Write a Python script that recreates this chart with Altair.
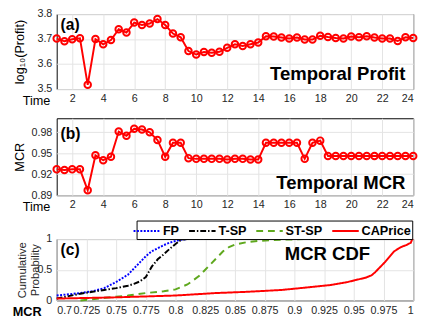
import altair as alt
import pandas as pd

FONT = "Liberation Sans"

time = [1, 1.5, 2, 2.5, 3, 3.5, 4, 4.5, 5, 5.5, 6, 6.5, 7, 7.5, 8, 8.5, 9, 9.5, 10, 10.5,
        11, 11.5, 12, 12.5, 13, 13.5, 14, 14.5, 15, 15.5, 16, 16.5, 17, 17.5, 18, 18.5,
        19, 19.5, 20, 20.5, 21, 21.5, 22, 22.5, 23, 23.5, 24]
profit = [3.702, 3.691, 3.699, 3.703, 3.517, 3.700, 3.679, 3.696, 3.739, 3.726, 3.766, 3.756,
          3.762, 3.780, 3.756, 3.722, 3.707, 3.652, 3.638, 3.648, 3.645, 3.649, 3.665, 3.679,
          3.672, 3.679, 3.686, 3.711, 3.710, 3.706, 3.702, 3.706, 3.698, 3.698, 3.713, 3.708,
          3.704, 3.702, 3.710, 3.707, 3.711, 3.706, 3.702, 3.702, 3.692, 3.707, 3.704]
mcr = [0.927, 0.926, 0.927, 0.927, 0.897, 0.947, 0.940, 0.945, 0.981, 0.975, 0.985, 0.984,
       0.980, 0.969, 0.945, 0.965, 0.965, 0.943, 0.942, 0.942, 0.942, 0.942, 0.941, 0.942,
       0.942, 0.941, 0.941, 0.965, 0.965, 0.965, 0.965, 0.965, 0.942, 0.965, 0.968, 0.946,
       0.946, 0.946, 0.946, 0.946, 0.946, 0.946, 0.946, 0.946, 0.946, 0.946, 0.946]

fp_x = [0.7, 0.71, 0.72, 0.73, 0.74, 0.75, 0.755, 0.76, 0.765, 0.77, 0.775, 0.78, 0.785, 0.79,
        0.795, 0.8, 0.805, 0.81, 0.82, 0.835]
fp_y = [0.08, 0.1, 0.12, 0.15, 0.2, 0.3, 0.36, 0.42, 0.52, 0.62, 0.72, 0.8, 0.85, 0.9, 0.94,
        0.97, 0.99, 1.0, 1.0, 1.0]
tsp_x = [0.7, 0.71, 0.72, 0.73, 0.74, 0.75, 0.76, 0.765, 0.77, 0.775, 0.78, 0.785, 0.79, 0.795,
         0.8, 0.805, 0.81, 0.83]
tsp_y = [0.03, 0.07, 0.11, 0.14, 0.17, 0.2, 0.24, 0.27, 0.31, 0.38, 0.55, 0.67, 0.75, 0.84,
         0.92, 0.99, 1.0, 1.0]
stsp_x = [0.72, 0.73, 0.75, 0.76, 0.775, 0.79, 0.8, 0.81, 0.82, 0.825, 0.83, 0.835, 0.84,
          0.845, 0.85, 0.86, 0.87, 0.89, 0.91, 0.925]
stsp_y = [0.0, 0.02, 0.06, 0.08, 0.12, 0.15, 0.18, 0.26, 0.4, 0.5, 0.6, 0.7, 0.8, 0.87, 0.91,
          0.95, 0.97, 0.99, 1.0, 1.0]
cap_x = [0.7, 0.75, 0.8, 0.834, 0.86, 0.889, 0.91, 0.93, 0.945, 0.951, 0.96, 0.965, 0.968,
         0.972, 0.976, 0.98, 0.984, 0.988, 0.991, 0.994, 0.996, 0.998, 0.999, 1.0]
cap_y = [0.03, 0.05, 0.08, 0.12, 0.14, 0.17, 0.21, 0.25, 0.3, 0.33, 0.37, 0.41, 0.46, 0.54,
         0.62, 0.71, 0.8, 0.85, 0.88, 0.9, 0.92, 0.94, 0.99, 1.0]

series_names = ["FP", "T-SP", "ST-SP", "CAPrice"]
series_colors = ["#0000FF", "#000000", "#5FA81E", "#FF0000"]
series_dash = [[2, 1.5], [6, 2, 1.5, 2], [7, 5], [1, 0]]

time_ticks = [2, 4, 6, 8, 10, 12, 14, 16, 18, 20, 22, 24]
profit_ticks = [3.5, 3.6, 3.7, 3.8]
mcr_ticks = [0.89, 0.92, 0.95, 0.98]
cdf_xticks = [0.7, 0.725, 0.75, 0.775, 0.8, 0.825, 0.85, 0.875, 0.9, 0.925, 0.95, 0.975, 1.0]
cdf_yticks = [0, 0.5, 1]

W = 366

df_a = pd.DataFrame({"t": time, "v": profit})
df_b = pd.DataFrame({"t": time, "v": mcr})
rows = []
for name, xs, ys in zip(series_names, [fp_x, tsp_x, stsp_x, cap_x], [fp_y, tsp_y, stsp_y, cap_y]):
    for i, (a, b) in enumerate(zip(xs, ys)):
        rows.append({"s": name, "x": a, "y": b, "o": i})
df_c = pd.DataFrame(rows)

one = pd.DataFrame({"k": [0]})

common_axis = dict(labelFont=FONT, labelFontSize=11, labelColor="#262626", grid=True,
                   gridColor="#e3e3e3", ticks=False, domain=False)


def xaxis_time():
    return alt.Axis(values=time_ticks, title="Time", titleFont=FONT, titleFontSize=13,
                    titleFontWeight="normal", titleColor="black", titleX=-7, titleY=16,
                    titleAlign="right", titleBaseline="alphabetic", labelPadding=4,
                    **common_axis)


def label(text, x, y, size=16, align="left", baseline="middle"):
    return alt.Chart(one).mark_text(text=text, font=FONT, fontSize=size, fontWeight="bold",
                                    color="black", align=align, baseline=baseline).encode(
        x=alt.value(x), y=alt.value(y))


def spacer(y):
    return alt.Chart(one).mark_text(text=".", fontSize=2, opacity=0, baseline="top").encode(
        x=alt.value(5), y=alt.value(y))


def temporal(df, domain, ticks, fmt, ytitle, tag, tag_y, big, big_y, h, extra=None):
    base = alt.Chart(df)
    x = alt.X("t:Q", scale=alt.Scale(domain=[1, 24], nice=False, zero=False), axis=xaxis_time())
    y = alt.Y("v:Q", scale=alt.Scale(domain=domain, nice=False, zero=False),
              axis=alt.Axis(values=ticks, format=fmt, title=ytitle, titleFont=FONT,
                            titleFontSize=13, titleFontWeight="normal", titleColor="black",
                            titleX=-38, titleBaseline="middle", labelPadding=5, **common_axis))
    line = base.mark_line(color="#FF0000", strokeWidth=2).encode(x=x, y=y)
    pts = base.mark_point(shape="circle", color="#FF0000", filled=False, size=45,
                          strokeWidth=2, opacity=1).encode(x=x, y=y)
    layers = [line, pts, label(tag, 4, tag_y),
              label(big, W - 8, big_y, size=19, align="right", baseline="alphabetic")]
    if extra is not None:
        layers.append(extra)
    return alt.layer(*layers).properties(width=W, height=h)


panel_a = temporal(df_a, [3.5, 3.8], profit_ticks, ".1f", "log\u2081\u2080(Profit)", "(a)", 11,
                   "Temporal Profit", 68, 77)
panel_b = temporal(df_b, [0.89, 1.0], mcr_ticks, ".2f", "MCR", "(b)", 16,
                   "Temporal MCR", 73, 79, extra=spacer(-4))

cdf_lines = alt.Chart(df_c).mark_line(strokeWidth=2).encode(
    x=alt.X("x:Q", scale=alt.Scale(domain=[0.7, 1.0], nice=False, zero=False),
            axis=alt.Axis(values=cdf_xticks, format=".3~f", title="MCR", titleFont=FONT,
                          titleFontSize=13, titleFontWeight="bold", titleColor="black",
                          titleX=-16, titleY=16, titleAlign="right", titleBaseline="alphabetic",
                          labelPadding=4, **common_axis)),
    y=alt.Y("y:Q", scale=alt.Scale(domain=[0, 1], nice=False),
            axis=alt.Axis(values=cdf_yticks, format="~g", title=["Cumulative", "Probability"],
                          titleFont=FONT, titleFontSize=11.5, titleFontWeight="normal",
                          titleColor="#262626", titleX=-35, titleBaseline="middle",
                          titleLineHeight=13, labelPadding=5, **common_axis)),
    color=alt.Color("s:N", scale=alt.Scale(domain=series_names, range=series_colors),
                    legend=alt.Legend(title=None, orient="none", legendX=82, legendY=-19,
                                      direction="horizontal", columns=4,
                                      symbolType="M-1.7,0H1.7", symbolSize=256,
                                      symbolStrokeWidth=2.2, symbolFillColor="transparent",
                                      labelFont=FONT, labelFontSize=13, labelFontWeight="bold",
                                      labelColor="black", strokeColor="black",
                                      fillColor="white", padding=1, columnPadding=5,
                                      labelOffset=7)),
    strokeDash=alt.StrokeDash("s:N", scale=alt.Scale(domain=series_names, range=series_dash),
                              legend=None),
    order="o:Q",
    detail="s:N",
)

panel_c = alt.layer(cdf_lines, label("(c)", 4, 11),
                    label("MCR CDF", 278, 21, size=19, align="center", baseline="alphabetic")
                    ).properties(width=W, height=63)

chart = alt.vconcat(panel_a, panel_b, panel_c, spacing=5).resolve_scale(
    color="independent", strokeDash="independent"
).configure_view(stroke="black", strokeWidth=1).properties(
    padding={"left": 3, "top": -5, "right": 0, "bottom": 0}
)

chart.save("out.html", embed_options={"renderer": "svg", "actions": False})
